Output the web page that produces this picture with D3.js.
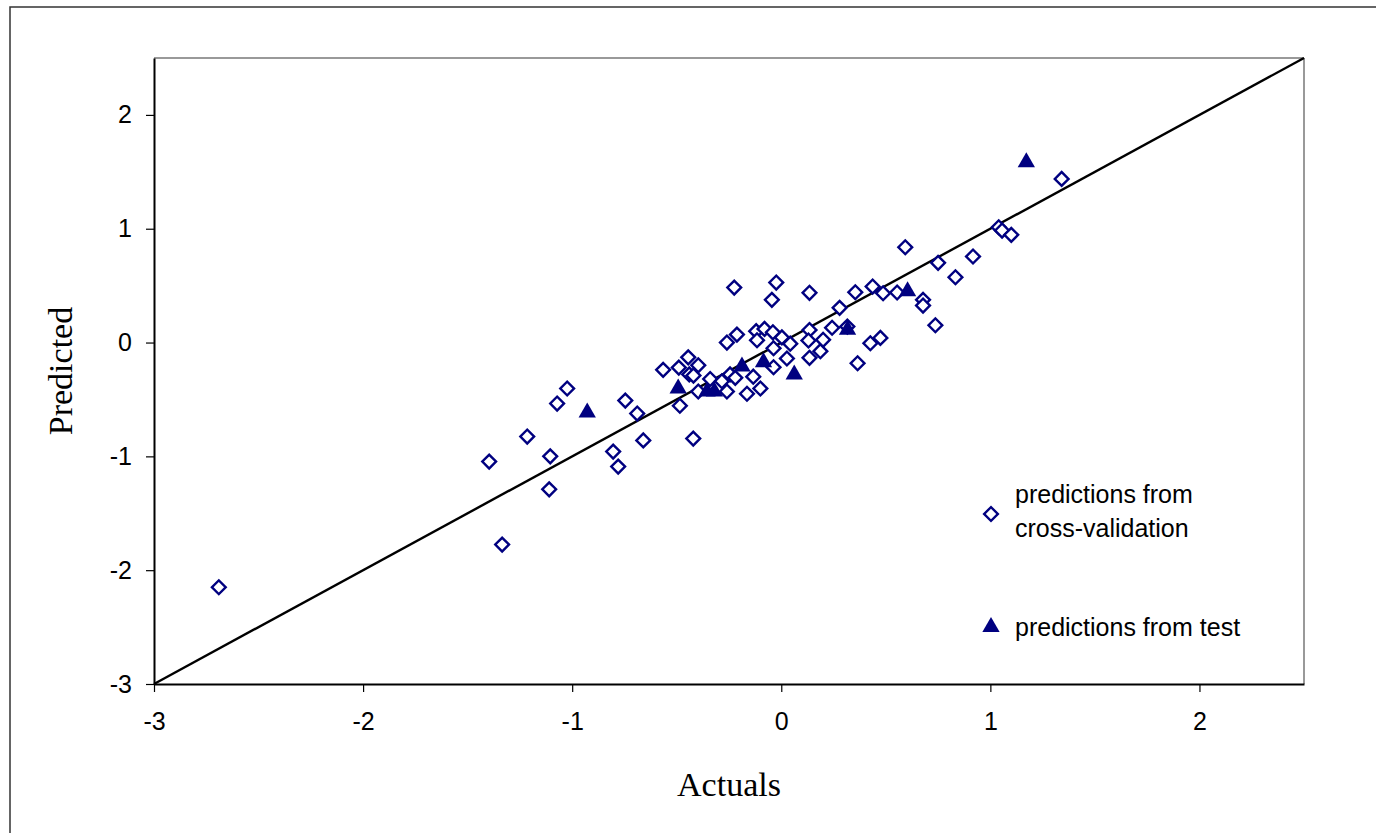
<!DOCTYPE html>
<html>
<head>
<meta charset="utf-8">
<script src="https://cdn.jsdelivr.net/npm/d3@7"></script>
<style>
  body { margin: 0; background: #fff; }
  svg { display: block; }
</style>
</head>
<body>
<svg id="chart" width="1376" height="833"></svg>
<script>
// cross-validation predictions (actual, predicted)
var cvActual = [-2.69, -1.335, -1.397, -1.11, -1.105, -1.215, -1.072, -1.024, -0.804, -0.78,
  -0.66, -0.746, -0.689, -0.565, -0.421, -0.485, -0.49, -0.445, -0.397, -0.44,
  -0.42, -0.397, -0.34, -0.284, -0.245, -0.22, -0.26, -0.164, -0.1, -0.134,
  -0.26, -0.212, -0.225, -0.024, -0.045, -0.12, -0.116, -0.08, -0.04, 0.003,
  0.043, 0.027, -0.037, -0.037, 0.135, 0.135, 0.13, 0.135, 0.187, 0.2,
  0.243, 0.279, 0.354, 0.365, 0.316, 0.426, 0.474, 0.437, 0.487, 0.554,
  0.593, 0.678, 0.678, 0.737, 0.75, 0.833, 0.917, 1.04, 1.056, 1.1, 1.341];
var cvPredicted = [-2.15, -1.775, -1.046, -1.29, -1.0, -0.826, -0.536, -0.404, -0.958, -1.09,
  -0.86, -0.51, -0.624, -0.24, -0.844, -0.555, -0.22, -0.13, -0.2, -0.28,
  -0.29, -0.43, -0.32, -0.34, -0.28, -0.31, -0.43, -0.45, -0.404, -0.3,
  0.0, 0.07, 0.483, 0.527, 0.375, 0.1, 0.02, 0.12, 0.09, 0.045,
  -0.01, -0.14, -0.05, -0.217, 0.437, 0.11, 0.018, -0.134, -0.076, 0.024,
  0.13, 0.305, 0.442, -0.182, 0.14, -0.006, 0.041, 0.492, 0.433, 0.44,
  0.837, 0.375, 0.325, 0.152, 0.7, 0.574, 0.756, 1.013, 0.984, 0.946, 1.438];

// test set predictions
var testActual = [-0.928, -0.493, -0.355, -0.32, -0.188, -0.085, 0.062, 0.317, 0.604, 1.172];
var testPredicted = [-0.615, -0.404, -0.43, -0.43, -0.21, -0.173, -0.28, 0.112, 0.45, 1.584];

var tickValues = [-3, -2, -1, 0, 1, 2];
var domainMin = -3, domainMax = 2.5;
var legendLabels = [["predictions from", "cross-validation"], ["predictions from test"]];

var navy = "#000080";
var svg = d3.select("#chart");

// outer frame
svg.append("rect")
  .attr("x", 10).attr("y", 7)
  .attr("width", 1400).attr("height", 860)
  .attr("fill", "none").attr("stroke", "#333").attr("stroke-width", 1.5);

var plotLeft = 154, plotRight = 1304, plotTop = 58, plotBottom = 684;

var x = d3.scaleLinear().domain([domainMin, domainMax]).range([plotLeft, plotRight]);
var y = d3.scaleLinear().domain([domainMin, domainMax]).range([plotBottom, plotTop]);

// plot frame: grey top/right, black left/bottom
svg.append("line").attr("x1", plotLeft).attr("x2", plotRight).attr("y1", plotTop).attr("y2", plotTop)
  .attr("stroke", "#777").attr("stroke-width", 1.5);
svg.append("line").attr("x1", plotRight).attr("x2", plotRight).attr("y1", plotTop).attr("y2", plotBottom)
  .attr("stroke", "#777").attr("stroke-width", 1.5);

var xAxis = svg.append("g")
  .attr("transform", "translate(0," + plotBottom + ")")
  .call(d3.axisBottom(x).tickValues(tickValues).tickSize(8).tickSizeOuter(0).tickPadding(20));
var yAxis = svg.append("g")
  .attr("transform", "translate(" + plotLeft + ",0)")
  .call(d3.axisLeft(y).tickValues(tickValues).tickSize(8).tickSizeOuter(0).tickPadding(14));

[xAxis, yAxis].forEach(function(g) {
  g.select(".domain").attr("stroke", "#000").attr("stroke-width", 2);
  g.selectAll(".tick line").attr("stroke", "#000").attr("stroke-width", 1.2);
  g.selectAll(".tick text")
    .attr("fill", "#000")
    .style("font-family", "'Liberation Sans', Arial, sans-serif")
    .style("font-size", "25px")
    .text(function(d) { return String(d); });
});

// y = x reference line
svg.append("line")
  .attr("x1", x(domainMin)).attr("y1", y(domainMin))
  .attr("x2", x(domainMax)).attr("y2", y(domainMax))
  .attr("stroke", "#000").attr("stroke-width", 2.4);

var cvData = cvActual.map(function(a, i) { return [a, cvPredicted[i]]; });
var testData = testActual.map(function(a, i) { return [a, testPredicted[i]]; });

var diamond = d3.symbol().type(d3.symbolSquare).size(95);
var triangle = d3.symbol().type(d3.symbolTriangle).size(130);

svg.append("g").selectAll("path")
  .data(cvData)
  .enter().append("path")
  .attr("d", diamond)
  .attr("transform", function(d) { return "translate(" + x(d[0]) + "," + y(d[1]) + ") rotate(45)"; })
  .attr("fill", "#fff")
  .attr("stroke", navy)
  .attr("stroke-width", 2.4);

svg.append("g").selectAll("path")
  .data(testData)
  .enter().append("path")
  .attr("d", triangle)
  .attr("transform", function(d) { return "translate(" + x(d[0]) + "," + y(d[1]) + ")"; })
  .attr("fill", navy);

// axis titles
svg.append("text")
  .attr("x", (plotLeft + plotRight) / 2).attr("y", 796)
  .attr("text-anchor", "middle")
  .style("font-family", "'Liberation Serif', 'Times New Roman', serif")
  .style("font-size", "34px")
  .text("Actuals");
svg.append("text")
  .attr("transform", "translate(72," + ((plotTop + plotBottom) / 2) + ") rotate(-90)")
  .attr("text-anchor", "middle")
  .style("font-family", "'Liberation Serif', 'Times New Roman', serif")
  .style("font-size", "34px")
  .text("Predicted");

// legend
var legendFont = "'Liberation Sans', Arial, sans-serif";
var lg = svg.append("g");
lg.append("path")
  .attr("d", diamond)
  .attr("transform", "translate(991,514) rotate(45)")
  .attr("fill", "#fff").attr("stroke", navy).attr("stroke-width", 2.4);
var t1 = lg.append("text")
  .attr("x", 1015).attr("y", 503)
  .style("font-family", legendFont).style("font-size", "25px").attr("fill", "#000");
legendLabels[0].forEach(function(s, i) {
  t1.append("tspan").attr("x", 1015).attr("dy", i === 0 ? 0 : 34).text(s);
});
lg.append("path")
  .attr("d", triangle)
  .attr("transform", "translate(991,627)")
  .attr("fill", navy);
lg.append("text")
  .attr("x", 1015).attr("y", 636)
  .style("font-family", legendFont).style("font-size", "25px").attr("fill", "#000")
  .text(legendLabels[1][0]);
</script>
</body>
</html>
